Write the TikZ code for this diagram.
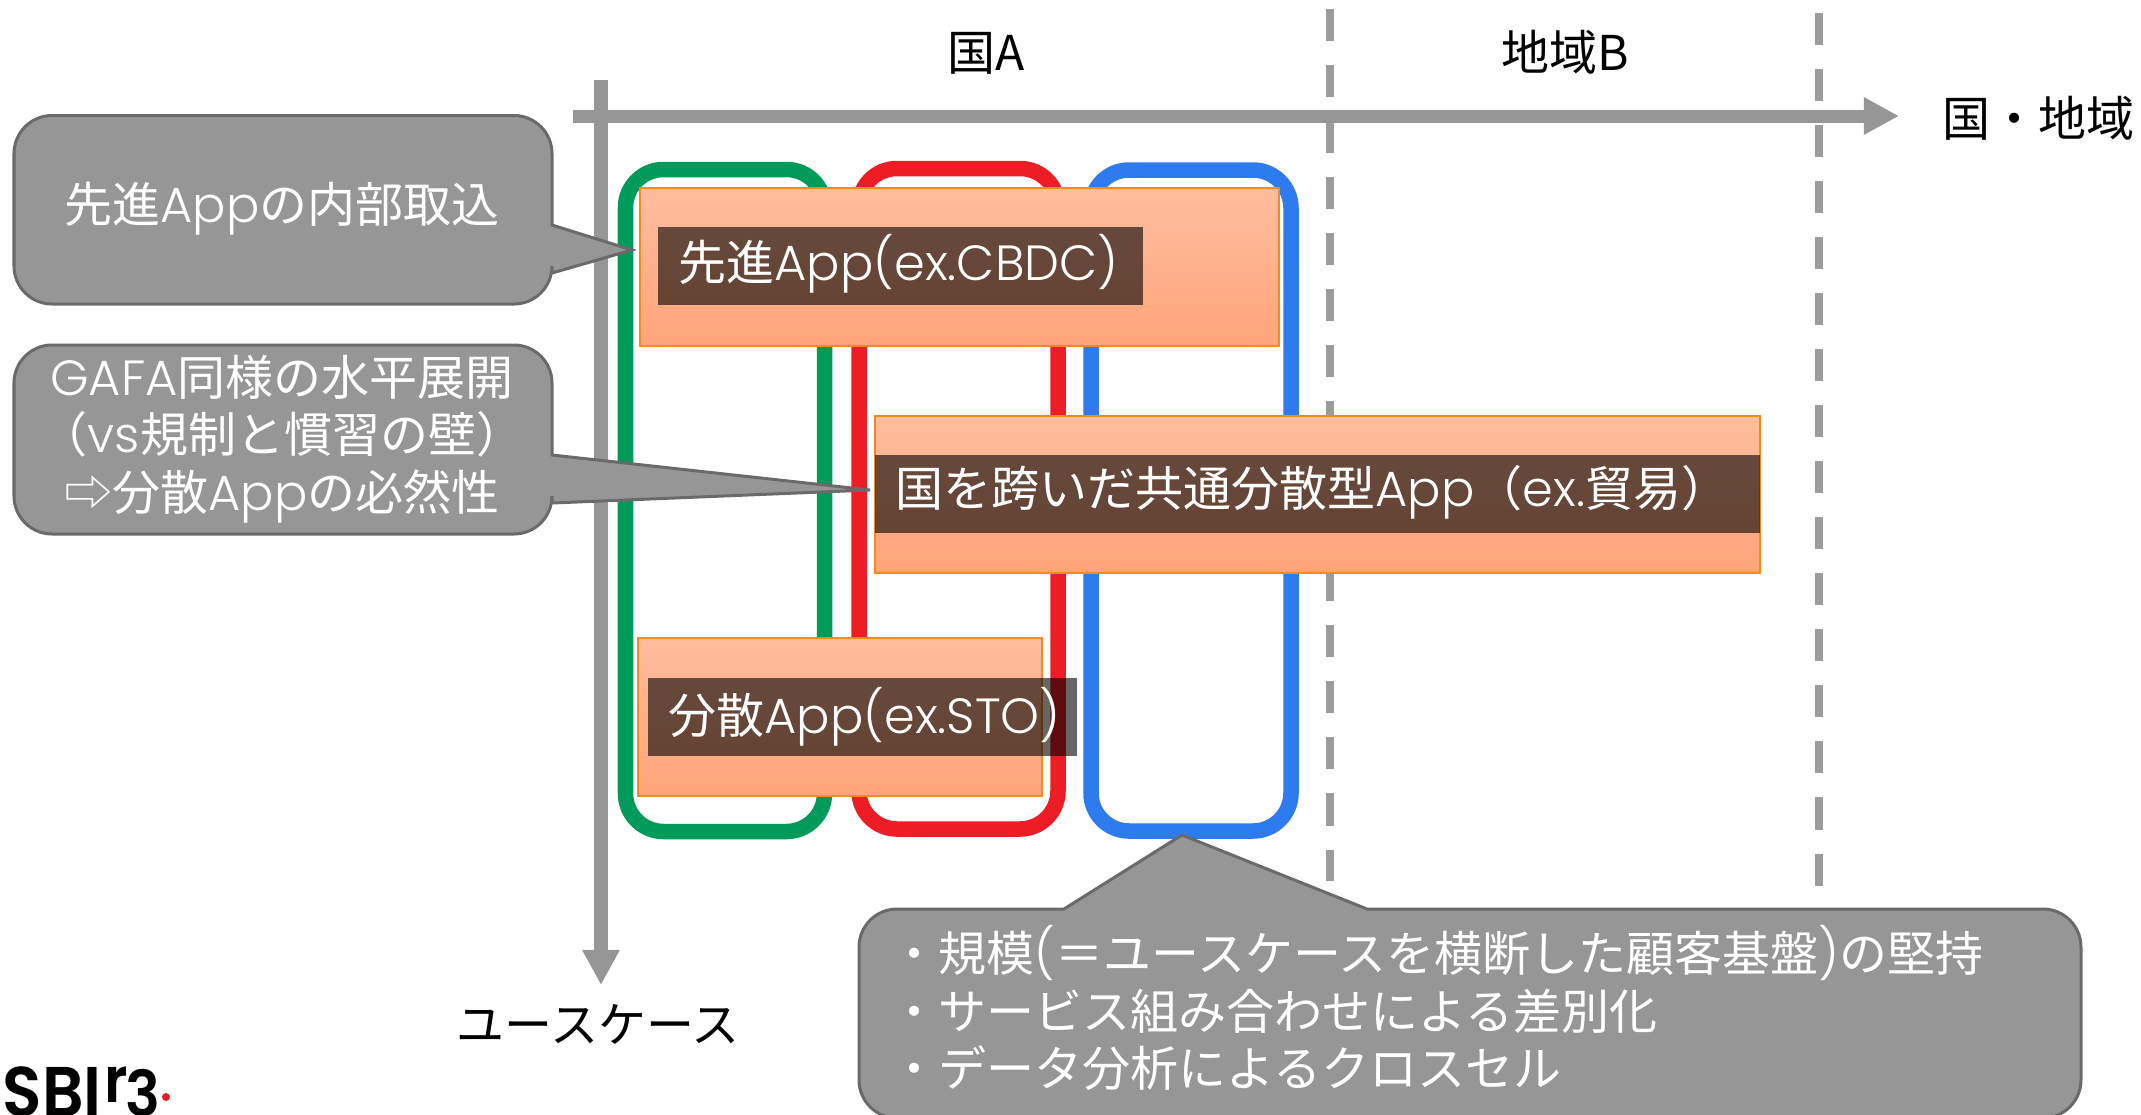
\documentclass[tikz,border=0pt]{standalone}
\usepackage{fontspec}
\usetikzlibrary{arrows.meta}
\newfontfamily\jpfont{Noto Sans CJK JP}
\newfontfamily\lafont[UprightFont={* Light},Scale=1.03]{Poppins}
\newfontfamily\logofont[UprightFont={* SemiBold},FakeStretch=0.92]{Poppins}
\newcommand{\la}[1]{{\lafont #1}}
\definecolor{axisgray}{HTML}{969696}
\definecolor{calloutline}{HTML}{6A6A6A}
\definecolor{dashgray}{HTML}{9C9C9C}
\definecolor{usegreen}{HTML}{009A5A}
\definecolor{usered}{HTML}{EE1C25}
\definecolor{useblue}{HTML}{2E7BF0}
\definecolor{boxline}{HTML}{F58A1F}
\definecolor{boxtop}{HTML}{FFBD9E}
\definecolor{boxbottom}{HTML}{FFA479}

\begin{document}
\begin{tikzpicture}[x=0.01cm,y=-0.01cm,font=\jpfont\fontsize{13.65pt}{16.3pt}\selectfont]
	\tikzstyle{axis}=[draw=axisgray,line width=0.13cm,-{Triangle[length=0.35cm,width=0.35cm]}]
	\tikzstyle{border}=[draw=dashgray,line width=0.08cm,dash pattern=on 0.32cm off 0.24cm]
	\tikzstyle{usecase}=[line width=0.155cm,rounded corners=0.38cm]
	\tikzstyle{appbox}=[draw=boxline,line width=0.02cm,top color=boxtop,bottom color=boxbottom]
	\tikzstyle{band}=[fill=black,fill opacity=0.6]
	\tikzstyle{callout}=[fill=axisgray,draw=calloutline,line width=0.03cm,rounded corners=0.38cm]
	\tikzstyle{white label}=[text=white,inner sep=0pt]
	\tikzstyle{black label}=[text=black,inner sep=0pt]
	\useasboundingbox (0,0) rectangle (2141,1114);

	% Draw the country borders
	\foreach \x/\ya/\yb in {1329.5/9/881,1819/13/886}
	\draw[border] (\x,\ya) -- (\x,\yb);

	% Draw the axes
	\coordinate (Y-start) at (601,80);
	\coordinate (Y-end) at (601,985);
	\coordinate (X-start) at (573,116);
	\coordinate (X-end) at (1899,116);
	\draw[axis] (Y-start) -- (Y-end);
	\draw[axis] (X-start) -- (X-end);

	% Draw the use case frames
	\foreach \col/\xa/\ya/\xb/\yb in {usegreen/625.5/169.5/824.5/831.5,usered/859/168.5/1058/829,useblue/1091/170/1291/831}
	\draw[usecase,draw=\col] (\xa,\ya) rectangle (\xb,\yb);

	% Draw the App boxes, each with its band
	\foreach \xa/\ya/\xb/\yb in {640/188/1279/346,875/416/1760/573,638/638/1042/796}
	\draw[appbox] (\xa,\ya) rectangle (\xb,\yb);
	\foreach \xa/\ya/\xb/\yb in {658/227/1143/305,875/455/1760/533,648/678/1077/756}
	\fill[band] (\xa,\ya) rectangle (\xb,\yb);

	\node[white label,anchor=west] (T-1) at (678,264) {先進\la{App(ex.CBDC)}};
	\node[white label,anchor=west] (T-2) at (895,492) {国を跨いだ共通分散型\la{App}（\la{ex.}貿易）};
	\node[white label,anchor=west] (T-3) at (668,717) {分散\la{App(ex.STO)}};

	% Draw the callouts
	\draw[callout] (552,225) -- (552,115.5) -- (14,115.5) -- (14,304) -- (552,304) [sharp corners] -- (552,273) -- (632,250) -- cycle;
	\draw[callout] (552,455) -- (552,345) -- (14,345) -- (14,534) -- (552,534) [sharp corners] -- (552,503) -- (870,490) -- cycle;
	\draw[callout] (1367,909) -- (2081,909) -- (2081,1118) -- (859,1118) -- (859,909) [sharp corners] -- (1064,909) -- (1182,835) -- cycle;

	\node[white label] (C-1) at (282,209) {先進\la{App}の内部取込};
	\node[white label,align=center] (C-2) at (282,439) {\la{GAFA}同様の水平展開\\（\la{vs}規制と慣習の壁）\\⇨分散\la{App}の必然性};
	\node[white label,align=left,anchor=west] (C-3) at (890,1008) {・規模\la{(}＝ユースケースを横断した顧客基盤\la{)}の堅持\\・サービス組み合わせによる差別化\\・データ分析によるクロスセル};

	% Annotate the axes
	\node[black label] (L-1) at (986,53) {国A};
	\node[black label] (L-2) at (1565,52) {地域B};
	\node[black label,anchor=east] (L-3) at (2135,118) {国・地域};
	\node[black label] (L-4) at (598,1024) {ユースケース};

	% Draw the logo
	\node[inner sep=0pt,anchor=base west,font=\logofont\fontsize{20pt}{20pt}\selectfont] (logo-1) at (2,1116) {SBI};
	\node[inner sep=0pt,anchor=base west,font=\logofont\fontsize{18pt}{18pt}\selectfont] (logo-2) at (104,1102) {r};
	\node[inner sep=0pt,anchor=base west,font=\logofont\fontsize{18pt}{18pt}\selectfont] (logo-3) at (125,1116) {3};
	\fill[usered] (166,1097) circle (4);
\end{tikzpicture}
\end{document}
